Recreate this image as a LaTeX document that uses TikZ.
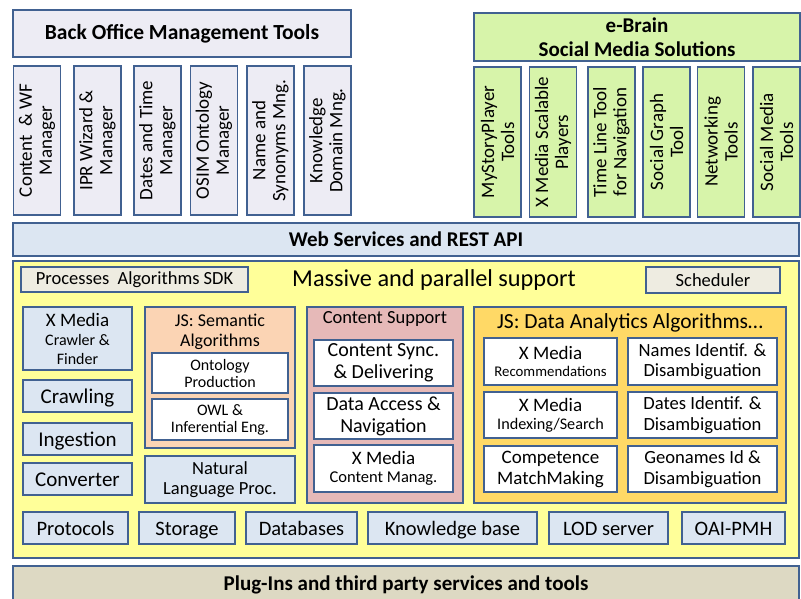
\documentclass[tikz,border=0pt]{standalone}
\usepackage{fontspec}
\setmainfont{Carlito}
\usepackage{tikz}

\definecolor{edge}{RGB}{65,97,145}
\definecolor{lavender}{RGB}{237,236,244}
\definecolor{lgreen}{RGB}{215,244,170}
\definecolor{lblue}{RGB}{220,230,242}
\definecolor{lyellow}{RGB}{255,255,153}
\definecolor{beige}{RGB}{238,236,225}
\definecolor{peach}{RGB}{251,212,180}
\definecolor{lpink}{RGB}{230,185,184}
\definecolor{gold}{RGB}{255,217,102}
\definecolor{khaki}{RGB}{221,217,195}

\newcommand{\fs}[1]{\fontsize{#1}{#1}\selectfont}

\tikzset{
	box/.style={draw=edge,line width=1.8pt,inner sep=1pt,align=center},
	vbox/.style={box,rotate=90,minimum width=149pt,minimum height=47pt,font=\fs{19}},
	gbox/.style={vbox,fill=lgreen,minimum width=150pt},
	bbox/.style={box,fill=lblue},
	wbox/.style={box,fill=white},
	onerow/.style={bbox,minimum height=32pt,font=\fs{20.5},text height=16pt,text depth=1.5pt},
}

\begin{document}
\begin{tikzpicture}[x=1pt,y=-1pt]
	\useasboundingbox (0,0) rectangle (801,598);
	\fill[white] (0,0) rectangle (801,598);

	%back office
	\node[box,fill=lavender,minimum width=338pt,minimum height=47pt,font=\bfseries\fs{21.5}] (backoff) at (182,33.5) {Back Office Management Tools};
	\node[vbox,fill=lavender] (contwf)  at ( 37.0,140.5) {Content \ \& WF\\[1pt]Manager};
	\node[vbox,fill=lavender] (iprwiz)  at ( 97.5,140.5) {IPR Wizard \&\\[1pt]Manager};
	\node[vbox,fill=lavender] (dates)   at (157.5,140.5) {Dates and Time\\[1pt]Manager};
	\node[vbox,fill=lavender] (osim)    at (214.0,140.5) {OSIM Ontology\\[1pt]Manager};
	\node[vbox,fill=lavender] (names)   at (270.5,140.5) {Name and\\[1pt]Synonyms Mng.};
	\node[vbox,fill=lavender] (knowdom) at (327.5,140.5) {Knowledge\\[1pt]Domain Mng.};

	%e-brain
	\node[box,fill=lgreen,minimum width=326pt,minimum height=48pt,font=\bfseries\fs{21}] (ebrain) at (637,37) {e-Brain\\[3pt]Social Media Solutions};
	\node[gbox] (mystory)  at (497.5,142) {MyStoryPlayer\\[1pt]Tools};
	\node[gbox] (scalable) at (553.0,142) {X Media Scalable\\[1pt]Players};
	\node[gbox] (timeline) at (611.5,142) {Time Line Tool\\[1pt]for Navigation};
	\node[gbox] (socgraph) at (666.5,142) {Social Graph\\[1pt]Tool};
	\node[gbox] (network)  at (721.0,142) {Networking\\[1pt]Tools};
	\node[gbox] (socmedia) at (776.5,142) {Social Media\\[1pt]Tools};

	%web services
	\node[bbox,minimum width=786pt,minimum height=33pt,font=\bfseries\fs{21}] (websrv) at (406,239.5) {Web Services and REST API};

	%massive and parallel support
	\node[box,fill=lyellow,minimum width=786pt,minimum height=297pt] (massive) at (406,409.5) {};
	\node[font=\fs{24.3}] (masstitle) at (434,280) {Massive and parallel support};
	\node[box,fill=beige,minimum width=227pt,minimum height=25pt,font=\fs{18.5}] (sdk) at (134.5,279.5) {Processes\ \ Algorithms SDK};
	\node[box,fill=beige,minimum width=134pt,minimum height=26pt,font=\fs{18.5}] (sched) at (713,280) {Scheduler};

	%left column
	\node[bbox,minimum width=109pt,minimum height=63pt,font=\fs{16}] (crawler) at (77.5,338.5) {{\fs{19}X Media}\\[3pt]Crawler \&\\[3pt]Finder};
	\node[onerow,minimum width=109pt,font=\fs{21}] (crawling)  at (77.5,396) {Crawling};
	\node[onerow,minimum width=109pt,font=\fs{21}] (ingestion) at (77.5,439) {Ingestion};
	\node[onerow,minimum width=109pt,font=\fs{21}] (converter) at (77.5,479) {Converter};

	%semantic algorithms
	\node[box,fill=peach,minimum width=150pt,minimum height=141pt] (semantic) at (220,377.5) {};
	\node[font=\fs{18},align=center] (semtitle) at (220,332) {JS: Semantic\\[2pt]Algorithms};
	\node[wbox,minimum width=136pt,minimum height=40pt,font=\fs{16}] (ontoprod) at (220,373) {Ontology\\[1pt]Production};
	\node[wbox,minimum width=136pt,minimum height=41pt,font=\fs{16}] (owl) at (220,419.5) {OWL \&\\[1pt]Inferential Eng.};
	\node[bbox,minimum width=150pt,minimum height=47pt,font=\fs{18.5}] (nlp) at (220,479.5) {Natural\\[2pt]Language Proc.};

	%content support
	\node[box,fill=lpink,minimum width=156pt,minimum height=196pt] (contsup) at (385,405) {};
	\node[font=\fs{18.5}] (contsuptitle) at (385,319) {Content Support};
	\node[wbox,minimum width=139pt,minimum height=46pt,font=\fs{20}] (contsync) at (383.5,363) {Content Sync.\\[2pt]\& Delivering};
	\node[wbox,minimum width=139pt,minimum height=46pt,font=\fs{20}] (dataacc)  at (383.5,416) {Data Access \&\\[2pt]Navigation};
	\node[wbox,minimum width=139pt,minimum height=47pt,font=\fs{16.5}] (contman)  at (383.5,468.5) {{\fs{19}X Media}\\[2pt]Content Manag.};

	%data analytics
	\node[box,fill=gold,minimum width=312pt,minimum height=196pt] (analytics) at (630,405) {};
	\node[font=\fs{21.5}] (anatitle) at (630,323) {JS: Data Analytics Algorithms\dots};
	\node[wbox,minimum width=133pt,minimum height=47pt,font=\fs{14.8}] (recomm)  at (550.5,361.5) {{\fs{19}X Media}\\[2pt]Recommendations};
	\node[wbox,minimum width=133pt,minimum height=46pt,font=\fs{16.2}] (indexing) at (550.5,415) {{\fs{19}X Media}\\[2pt]Indexing/Search};
	\node[wbox,minimum width=133pt,minimum height=46pt,font=\fs{19}] (compet)  at (550.5,469) {Competence\\[2pt]MatchMaking};
	\node[wbox,minimum width=149pt,minimum height=47pt,font=\fs{18.6}] (namesid) at (702.5,361.5) {Names Identif. \&\\[2pt]Disambiguation};
	\node[wbox,minimum width=149pt,minimum height=46pt,font=\fs{18.6}] (datesid) at (702.5,415) {Dates Identif. \&\\[2pt]Disambiguation};
	\node[wbox,minimum width=149pt,minimum height=46pt,font=\fs{18.6}] (geoid)   at (702.5,469) {Geonames Id \&\\[2pt]Disambiguation};

	%storage row
	\node[onerow,minimum width=105pt] (protocols) at ( 75.5,528) {Protocols};
	\node[onerow,minimum width= 96pt] (storage)   at (187.0,528) {Storage};
	\node[onerow,minimum width=111pt] (databases) at (301.5,528) {Databases};
	\node[onerow,minimum width=169pt] (knowbase)  at (452.5,528) {Knowledge base};
	\node[onerow,minimum width=119pt] (lodserv)   at (608.5,528) {LOD server};
	\node[onerow,minimum width=103pt] (oaipmh)    at (733.5,528) {OAI-PMH};

	%plug-ins
	\node[box,fill=khaki,minimum width=786pt,minimum height=40pt] (plugins) at (406,586) {};
	\node[font=\bfseries\fs{21}] (plugtitle) at (406,585) {Plug-Ins and third party services and tools};
\end{tikzpicture}
\end{document}
